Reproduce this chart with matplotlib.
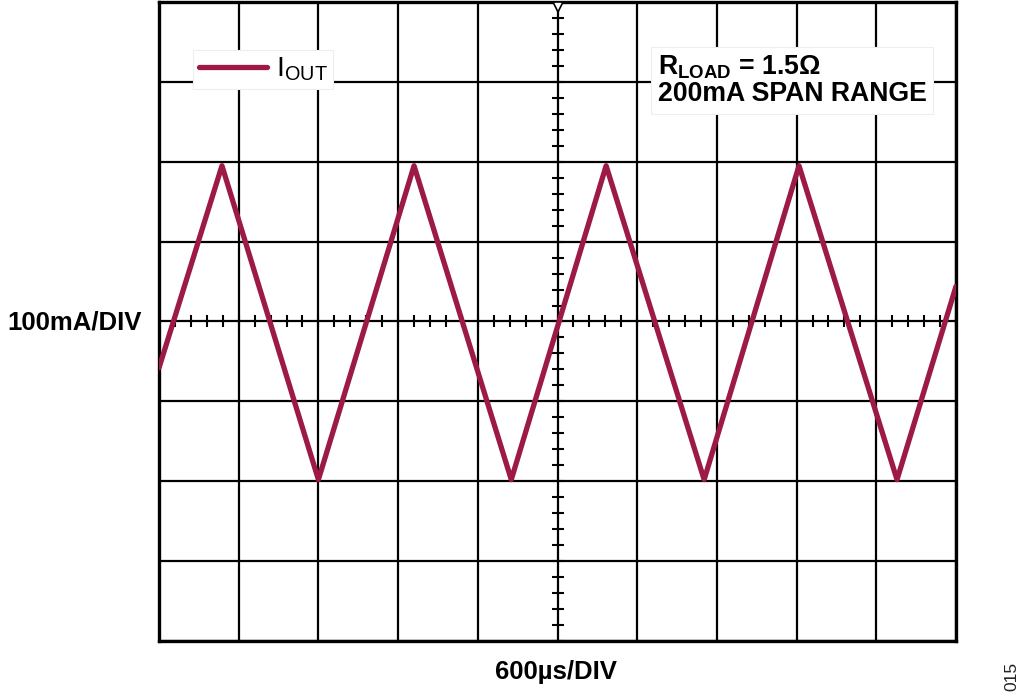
import numpy as np
import matplotlib.pyplot as plt
from matplotlib.lines import Line2D

plt.rcParams['font.family'] = ['Liberation Sans', 'DejaVu Sans']
plt.rcParams['mathtext.fontset'] = 'custom'
plt.rcParams['mathtext.rm'] = 'Liberation Sans'
plt.rcParams['mathtext.bf'] = 'Liberation Sans:bold'
plt.rcParams['mathtext.it'] = 'Liberation Sans'

# scope trace in divisions (10 x 8 grid, centre = 0)
wave_x = [0.0, 0.79, 2.0, 3.2, 4.42, 5.61, 6.84, 8.03, 9.26, 10.0]
wave_y = [-0.58, 1.95, -1.98, 1.95, -1.98, 1.95, -1.98, 1.95, -1.98, 0.44]

x_div = 10
y_div = 8
trace_col = '#9C1A45'

fig = plt.figure(figsize=(10.24, 6.96), dpi=100)
ax = fig.add_axes([159/1024, 55/696, 797/1024, 639/696])

ax.set_xlim(0, x_div)
ax.set_ylim(-y_div/2, y_div/2)
ax.set_xticks(np.arange(0, x_div + 1))
ax.set_yticks(np.arange(-y_div/2, y_div/2 + 1))
ax.tick_params(length=0, labelbottom=False, labelleft=False)
ax.grid(True, color='black', lw=1.6)
for s in ax.spines.values():
    s.set_linewidth(2.4)

# small ticks on the centre lines, 5 per division
mx = np.arange(0, x_div + 0.01, 0.2)
my = np.arange(-y_div/2, y_div/2 + 0.01, 0.2)
ax.plot(mx, np.zeros_like(mx), ls='none', marker='|', ms=9, mew=1.5, color='black')
ax.plot(np.full_like(my, x_div/2), my, ls='none', marker='_', ms=9, mew=1.5, color='black')

# trigger marker
ax.plot([x_div/2], [y_div/2 - 0.06], marker='v', ms=7, mfc='white', mec='black',
        mew=1.2, clip_on=False, zorder=5)

ax.plot(wave_x, wave_y, color=trace_col, lw=3.8, solid_capstyle='round', zorder=4)

h = Line2D([], [], color=trace_col, lw=3.8, solid_capstyle='round')
leg = ax.legend([h], [r'$\mathregular{I_{OUT}}$'], loc='upper left',
                bbox_to_anchor=(0.0427, 0.925), borderaxespad=0, fontsize=20.5,
                handlelength=2.4, handletextpad=0.3, borderpad=0.2,
                frameon=True, fancybox=False, framealpha=1)
leg.get_frame().set_edgecolor('#eeeeee')
leg.get_frame().set_linewidth(0.8)
leg.set_zorder(6)

ax.text(0.626, 0.877, r'$\mathbf{R_{LOAD}}$ = 1.5$\mathbf{\Omega}$' + '\n200mA SPAN RANGE',
        transform=ax.transAxes, fontsize=19.2, fontweight='bold', va='center',
        linespacing=1.0, zorder=6,
        bbox=dict(boxstyle='square,pad=0.25', fc='white', ec='#eeeeee', lw=0.8))

fig.text(7/1024, 1 - 322/696, '100mA/DIV', fontsize=18.5, fontweight='bold',
         ha='left', va='center')
fig.text(556/1024, 1 - 672/696, '600\u00b5s/DIV', fontsize=18.5, fontweight='bold',
         ha='center', va='center')
fig.text(1012/1024, 1 - 676/696, '015', fontsize=12.5, color='#222222',
         rotation=90, ha='center', va='center')

fig.savefig('out.png', dpi=100)
